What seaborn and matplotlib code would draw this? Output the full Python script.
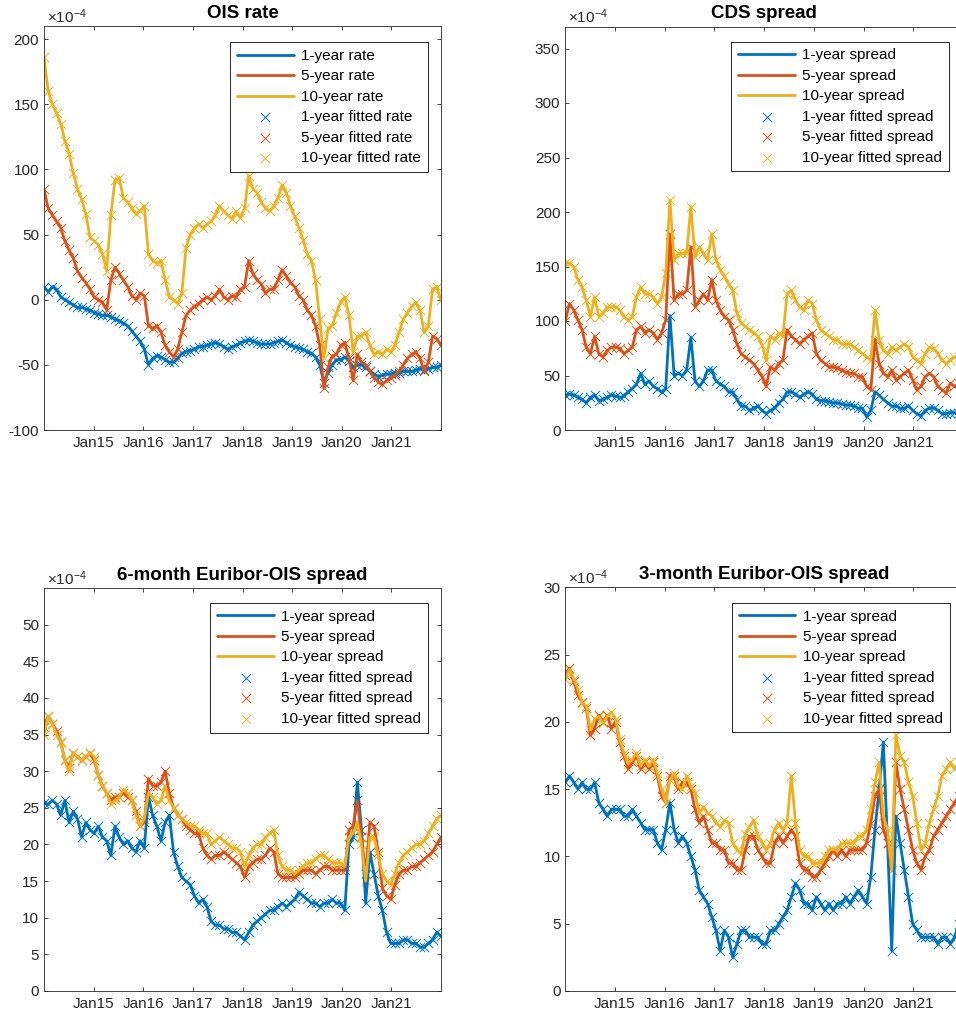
import pandas as pd
import matplotlib
matplotlib.use("Agg")
import matplotlib.pyplot as plt
import matplotlib.dates as mdates
import seaborn as sns

# Monthly observation dates, Jan 2014 - Dec 2021
dates = pd.date_range("2014-01-01", "2021-12-31", periods=96)

# OIS rates (x 1e-4)
ois_1y = [10, 6, 10, 8, 2, 0, -2, -4, -6, -6,
          -7, -8, -10, -11, -12, -12, -13, -15, -16, -18,
          -20, -24, -28, -32, -38, -50, -45, -43, -44, -46,
          -48, -48, -45, -41, -40, -39, -38, -36, -36, -35,
          -34, -33, -34, -36, -38, -36, -35, -33, -32, -31,
          -32, -33, -34, -34, -34, -33, -32, -31, -33, -35,
          -36, -37, -38, -40, -41, -44, -50, -64, -56, -50,
          -46, -46, -44, -47, -52, -50, -50, -52, -55, -57,
          -59, -58, -57, -57, -56, -56, -55, -55, -55, -54,
          -53, -54, -53, -52, -52, -50]
ois_5y = [85, 70, 65, 60, 55, 45, 38, 32, 22, 17,
          13, 8, 2, 0, -2, -8, 15, 25, 20, 15,
          10, 3, 0, 5, 3, -20, -22, -20, -25, -35,
          -40, -44, -38, -25, -12, -8, -5, -3, 0, 2,
          0, 3, 8, 2, 0, 3, 2, 8, 10, 30,
          20, 15, 12, 5, 8, 8, 15, 23, 18, 13,
          10, 3, 0, -8, -12, -20, -35, -68, -52, -43,
          -42, -35, -33, -45, -62, -42, -48, -50, -55, -60,
          -63, -65, -62, -60, -58, -55, -50, -45, -42, -40,
          -45, -55, -48, -28, -30, -35]
ois_10y = [186, 160, 150, 143, 135, 122, 112, 97, 85, 77,
           66, 48, 45, 42, 35, 22, 65, 92, 93, 78,
           75, 70, 66, 68, 72, 35, 30, 28, 30, 15,
           2, 0, -3, 5, 40, 50, 55, 58, 55, 58,
           60, 65, 72, 68, 65, 62, 68, 63, 70, 95,
           85, 82, 75, 70, 68, 72, 78, 88, 82, 72,
           64, 55, 46, 35, 30, 15, -15, -45, -22, -20,
           -10, -2, 2, -12, -40, -28, -28, -25, -35, -42,
           -40, -42, -38, -40, -35, -25, -15, -10, -5, -2,
           -8, -25, -20, 8, 10, 0]

# CDS spreads (x 1e-4)
cds_1y = [32, 33, 32, 30, 28, 25, 30, 32, 27, 28,
          30, 32, 31, 30, 31, 35, 38, 42, 52, 42,
          45, 40, 38, 35, 38, 105, 50, 52, 50, 55,
          85, 45, 40, 45, 55, 55, 45, 42, 40, 35,
          35, 28, 22, 22, 18, 20, 22, 18, 15, 18,
          20, 25, 28, 35, 35, 33, 30, 33, 35, 33,
          28, 27, 27, 26, 25, 25, 24, 23, 23, 22,
          20, 20, 12, 18, 35, 32, 28, 25, 22, 22,
          20, 20, 22, 18, 15, 13, 18, 20, 20, 18,
          15, 15, 16, 16, 16, 16]
cds_5y = [100, 116, 110, 101, 92, 76, 70, 86, 70, 67,
          73, 76, 76, 75, 70, 73, 76, 92, 95, 89,
          92, 89, 83, 89, 101, 180, 119, 125, 125, 128,
          168, 113, 119, 125, 119, 138, 119, 110, 104, 101,
          92, 79, 70, 67, 64, 61, 55, 49, 40, 58,
          55, 61, 64, 92, 86, 83, 79, 83, 86, 89,
          70, 64, 61, 58, 58, 57, 55, 53, 52, 52,
          49, 49, 40, 37, 83, 61, 52, 49, 55, 46,
          49, 52, 55, 46, 37, 40, 49, 52, 49, 40,
          37, 34, 43, 40, 43, 40]
cds_10y = [153, 153, 150, 138, 131, 119, 104, 122, 104, 107,
           113, 113, 113, 110, 104, 101, 104, 122, 131, 125,
           125, 122, 116, 122, 144, 211, 156, 162, 162, 162,
           205, 159, 168, 162, 156, 180, 156, 147, 141, 134,
           128, 107, 98, 95, 92, 89, 86, 78, 64, 86,
           83, 89, 86, 125, 128, 119, 113, 110, 119, 116,
           101, 92, 89, 86, 83, 83, 79, 79, 79, 76,
           73, 70, 67, 64, 110, 83, 73, 70, 76, 73,
           76, 79, 76, 67, 64, 61, 70, 76, 75, 70,
           64, 61, 64, 67, 67, 68]

# 6-month Euribor-OIS spreads (x 1e-4)
eo6_1y = [25.6, 25.5, 26, 25.5, 24, 26, 23, 24.5, 23.5, 21,
          23, 22, 21.5, 22.5, 21, 20.5, 18.5, 22.5, 21, 20,
          20.5, 19.5, 19, 20.5, 19.5, 26.5, 24, 22.5, 20.5, 23,
          24, 19, 17, 15.5, 15, 14.5, 13, 12, 12.5, 11.5,
          9.5, 9, 9, 8.5, 8.5, 8, 8, 7.5, 7, 8,
          9, 9.5, 10, 10.5, 11, 11, 11.5, 12, 11.5, 12,
          12.5, 13.5, 13, 12.5, 12, 12, 11.5, 12, 12, 12.5,
          12, 12, 11, 20, 21, 28.5, 22, 12, 19, 16,
          13, 11, 8, 6.5, 6.5, 6.5, 7, 7, 6.5, 6.5,
          6, 6, 6.5, 7, 8, 7.5]
eo6_5y = [36, 37.5, 36.5, 35.5, 34, 31.5, 30.5, 32.5, 32, 31.5,
          32, 32.5, 31.5, 29.5, 28, 27, 26, 26.5, 26.5, 27,
          26.5, 26, 24.5, 22.5, 23, 29, 28, 28, 28.5, 30,
          27, 25, 24, 23.5, 22.5, 22, 21.5, 21.5, 19.5, 18.5,
          18, 18.5, 18.5, 19, 18.5, 18, 17.5, 17, 15.5, 17,
          17.5, 18, 18, 18.5, 19.5, 19, 16, 15.5, 15.5, 15.5,
          15.5, 16, 16.5, 16.5, 16.5, 16, 16.5, 17, 17, 16.5,
          16.5, 16.5, 16.5, 22, 22.5, 26, 21, 16, 23, 22.5,
          19, 14, 13, 12.5, 14.5, 16, 16.5, 16.5, 17, 17,
          17.5, 18, 18.5, 19, 20, 21]
eo6_10y = [35, 37.5, 36.5, 35, 34, 31.5, 30, 32.5, 32, 31.5,
           32, 32.5, 32, 29.5, 28, 27, 25.5, 26, 26.5, 27.5,
           27, 26, 24, 22.5, 23.5, 27, 26.5, 25.5, 26, 28,
           26, 25, 24, 23.5, 23, 22.5, 22.5, 22, 21.5, 21.5,
           20, 20.5, 21, 20.5, 20, 19.5, 19.5, 19, 17, 18.5,
           19.5, 20, 20, 21, 21.5, 22, 18.5, 17, 16.5, 16.5,
           16, 16.5, 17, 17.5, 17.5, 18, 18.5, 18.5, 18, 17.5,
           17.5, 17.5, 17, 21, 21.5, 23, 20, 15, 21, 21,
           18.5, 16, 15, 14.5, 16, 17.5, 18.5, 19, 19.5, 20,
           20, 20.5, 21.5, 22.5, 23.5, 24]

# 3-month Euribor-OIS spreads (x 1e-4)
eo3_1y = [15.5, 16, 15.5, 15, 15.5, 15, 15, 15.5, 14, 13.5,
          13, 13.5, 13.5, 13.5, 13, 13, 13.5, 13, 12.5, 12,
          12, 12, 11, 10.5, 12, 14, 12, 11, 11.5, 11,
          10, 9, 7.5, 7, 6.5, 5.5, 4.5, 3, 4.5, 4,
          2.5, 3.5, 4.5, 4.5, 4, 4, 4, 3.5, 3.5, 4.5,
          4.5, 5, 5.5, 6, 7, 8, 7.5, 6.5, 6.5, 6,
          7, 6.5, 6, 6.5, 6, 6.5, 6.5, 7, 6.5, 7,
          7.5, 7, 6.5, 8.5, 12, 15, 18.5, 11, 3, 13,
          11, 9, 7, 5, 4.5, 4, 4, 4, 4, 3.5,
          4, 4, 3.5, 4, 5, 6]
eo3_5y = [23.5, 24, 23, 22, 21.5, 21, 19, 19.5, 20.5, 20,
          20.5, 19.5, 20, 18.5, 17.5, 16.5, 17, 17.5, 16.5, 17,
          16.5, 17, 16, 14.5, 14, 16, 16, 15, 15.5, 15.5,
          15, 13.5, 12.5, 13, 12, 11, 11, 10.5, 10.5, 9.5,
          9.5, 9, 9, 10.5, 11.5, 11.5, 10.5, 10, 9.5, 9.5,
          11, 11.5, 11, 11.5, 12, 11.5, 9.5, 9, 9, 8.5,
          8.5, 9, 9.5, 10, 10.5, 10, 10.5, 10, 10.5, 10.5,
          10.5, 10.5, 11, 12.5, 14.5, 15, 12, 11, 9, 17,
          15, 13.5, 12, 10.5, 9.5, 9, 10, 10.5, 11.5, 12,
          12.5, 13, 13.5, 14, 14.5, 15]
eo3_10y = [23.2, 23.9, 23.2, 22.4, 21.4, 21.2, 19.4, 20.2, 20.4, 19.9,
           20.4, 20.7, 20.2, 18.7, 17.7, 16.9, 17.2, 17.7, 16.7, 17.2,
           16.7, 17.2, 16.2, 15, 14, 15.7, 16.2, 15.2, 15, 16,
           15.2, 14.7, 13.2, 13.7, 13.2, 13, 12.5, 12.2, 12.7, 12.5,
           11, 10.5, 10.2, 11.7, 12.2, 12.7, 11.5, 11, 10.5, 11,
           12, 12.5, 12, 12.5, 16, 12.5, 10.5, 10, 10, 9.5,
           9.5, 9.5, 10, 10.5, 10.5, 10.5, 11, 11, 11, 11,
           11.5, 11.5, 12, 13.5, 15.5, 17, 13, 12, 9, 19,
           17.5, 17, 15.5, 14.5, 12.5, 10.5, 11, 12.5, 13.5, 14.5,
           16, 16.5, 17, 16.5, 17, 17]

year_ticks = ["2015", "2016", "2017", "2018", "2019", "2020", "2021"]

ois_yticks = [-100, -50, 0, 50, 100, 150, 200]
cds_yticks = [0, 50, 100, 150, 200, 250, 300, 350]
eo6_yticks = [0, 5, 10, 15, 20, 25, 30, 35, 40, 45, 50]
eo3_yticks = [0, 5, 10, 15, 20, 25, 30]

COLORS = ["#0072BD", "#D95319", "#EDB120"]
INK = "#262626"

sns.set_theme(style="white")
plt.rcParams.update({
    "font.family": ["Liberation Sans", "DejaVu Sans"],
    "mathtext.default": "regular",
    "axes.edgecolor": INK,
    "axes.linewidth": 0.6,
    "xtick.direction": "in",
    "ytick.direction": "in",
    "xtick.top": True,
    "ytick.right": True,
    "xtick.bottom": True,
    "ytick.left": True,
    "xtick.major.size": 3.0,
    "ytick.major.size": 3.0,
    "xtick.major.width": 0.6,
    "ytick.major.width": 0.6,
    "xtick.color": INK,
    "ytick.color": INK,
    "xtick.labelsize": 11,
    "ytick.labelsize": 11,
    "xtick.major.pad": 4,
    "ytick.major.pad": 3.5,
})

W, H = 956, 1017
fig = plt.figure(figsize=(W / 100, H / 100), dpi=100)


def panel(left, right, top, bottom):
    return fig.add_axes([left / W, 1 - bottom / H, (right - left) / W, (bottom - top) / H])


def draw(ax, series, names, fitted_names, title, ylim, yticks, anchor):
    for vals, name, c in zip(series, names, COLORS):
        sns.lineplot(x=dates, y=vals, ax=ax, color=c, linewidth=2.0,
                     label=name, estimator=None, sort=False)
    for vals, name, c in zip(series, fitted_names, COLORS):
        sns.scatterplot(x=dates, y=vals, ax=ax, color=c, marker="x", s=44,
                        linewidth=0.7, label=name)
    ax.set_xlim(pd.Timestamp("2014-01-01"), pd.Timestamp("2022-01-01"))
    ax.set_xticks([pd.Timestamp(y + "-01-01") for y in year_ticks])
    ax.xaxis.set_major_formatter(mdates.DateFormatter("%b%y"))
    ax.set_ylim(*ylim)
    ax.set_yticks(yticks)
    ax.set_yticklabels([str(v) for v in yticks])
    ax.set_xlabel("")
    ax.set_ylabel("")
    ax.set_title(title, fontsize=13.5, fontweight="bold", color="black", pad=6)
    ax.annotate(r"$\times10^{-4}$", xy=(0, 1), xycoords="axes fraction",
                xytext=(2, 2.5), textcoords="offset points",
                ha="left", va="baseline", fontsize=11, color=INK)
    leg = ax.legend(loc="upper right", bbox_to_anchor=anchor,
                    bbox_transform=ax.transAxes, borderaxespad=0,
                    frameon=True, fancybox=False, framealpha=1,
                    facecolor="white", edgecolor=INK, fontsize=11,
                    handlelength=3.7, handletextpad=0.5,
                    labelspacing=0.42, borderpad=0.45)
    leg.get_frame().set_linewidth(0.7)
    for t in leg.get_texts():
        t.set_color("black")


ax1 = panel(44, 441, 26, 430)
draw(ax1, [ois_1y, ois_5y, ois_10y],
     ["1-year rate", "5-year rate", "10-year rate"],
     ["1-year fitted rate", "5-year fitted rate", "10-year fitted rate"],
     "OIS rate", (-100, 210), ois_yticks, (0.967, 0.960))

ax2 = panel(565.3, 963, 26.7, 430)
draw(ax2, [cds_1y, cds_5y, cds_10y],
     ["1-year spread", "5-year spread", "10-year spread"],
     ["1-year fitted spread", "5-year fitted spread", "10-year fitted spread"],
     "CDS spread", (0, 370), cds_yticks, (0.9655, 0.963))

ax3 = panel(44, 441, 588, 991)
draw(ax3, [eo6_1y, eo6_5y, eo6_10y],
     ["1-year spread", "5-year spread", "10-year spread"],
     ["1-year fitted spread", "5-year fitted spread", "10-year fitted spread"],
     "6-month Euribor-OIS spread", (0, 55), eo6_yticks, (0.968, 0.9635))

ax4 = panel(565.3, 963, 587.3, 991)
draw(ax4, [eo3_1y, eo3_5y, eo3_10y],
     ["1-year spread", "5-year spread", "10-year spread"],
     ["1-year fitted spread", "5-year fitted spread", "10-year fitted spread"],
     "3-month Euribor-OIS spread", (0, 30), eo3_yticks, (0.967, 0.962))

fig.savefig("out.png", dpi=100)
